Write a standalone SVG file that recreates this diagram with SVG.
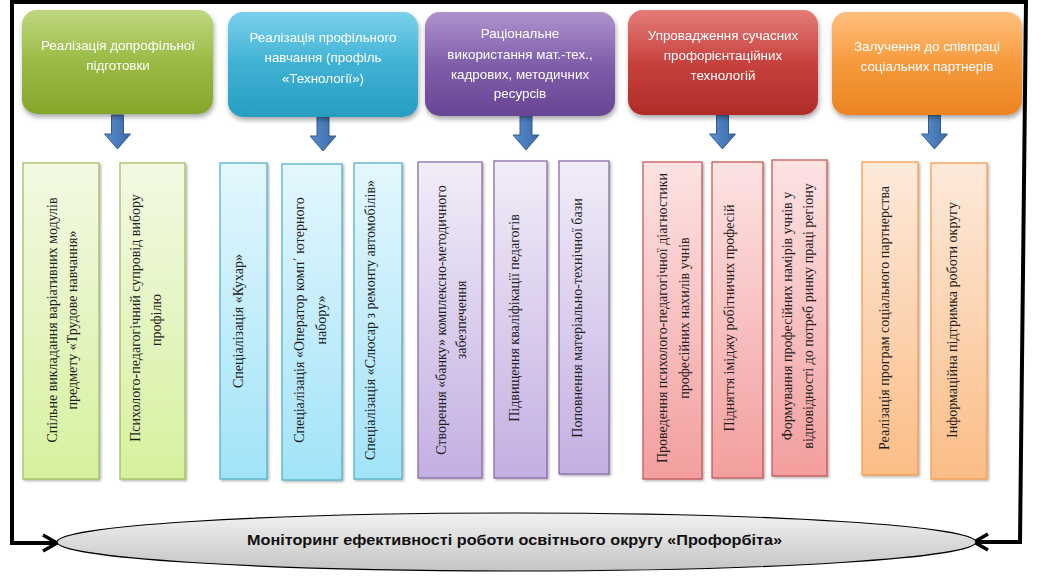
<svg xmlns="http://www.w3.org/2000/svg" width="1039" height="577" viewBox="0 0 1039 577">
<defs>
<style>
.ht{font-family:"Liberation Sans",Arial,sans-serif;font-size:13.4px;fill:#ffffff;text-anchor:middle}
.vt{font-family:"Liberation Serif","Times New Roman",serif;font-size:14px;fill:#1e1e1e;text-anchor:middle}
.mt{font-family:"Liberation Sans",Arial,sans-serif;font-size:15px;font-weight:bold;fill:#111;text-anchor:middle}
.hdr{filter:url(#sh)}
.lb{filter:url(#sh2);stroke-width:1.2}
.gloss{fill:url(#gl)}
.bar{stroke-width:4;filter:url(#sh2)}
.blk{fill:url(#ar);stroke:#385d8a;stroke-width:1}
.frame{fill:none;stroke:#000;stroke-width:4;stroke-linejoin:miter}
</style>
<filter id="sh" x="-10%" y="-10%" width="130%" height="140%"><feDropShadow dx="1" dy="3" stdDeviation="2.5" flood-color="#000" flood-opacity="0.35"/></filter>
<filter id="sh2" x="-10%" y="-10%" width="130%" height="130%"><feDropShadow dx="1.5" dy="1.5" stdDeviation="1.2" flood-color="#000" flood-opacity="0.3"/></filter>
<linearGradient id="gl" x1="0" y1="0" x2="0" y2="1"><stop offset="0" stop-color="#fff" stop-opacity="0.3"/><stop offset="0.5" stop-color="#fff" stop-opacity="0.05"/><stop offset="1" stop-color="#fff" stop-opacity="0"/></linearGradient>
<linearGradient id="hg" x1="0" y1="0" x2="0" y2="1"><stop offset="0" stop-color="#a4c64a"/><stop offset="1" stop-color="#84a72a"/></linearGradient>
<linearGradient id="hb" x1="0" y1="0" x2="0" y2="1"><stop offset="0" stop-color="#42bde2"/><stop offset="1" stop-color="#279dc2"/></linearGradient>
<linearGradient id="hp" x1="0" y1="0" x2="0" y2="1"><stop offset="0" stop-color="#8a64b6"/><stop offset="1" stop-color="#684694"/></linearGradient>
<linearGradient id="hr" x1="0" y1="0" x2="0" y2="1"><stop offset="0" stop-color="#d8443f"/><stop offset="1" stop-color="#b02c28"/></linearGradient>
<linearGradient id="ho" x1="0" y1="0" x2="0" y2="1"><stop offset="0" stop-color="#ffa444"/><stop offset="1" stop-color="#ec8420"/></linearGradient>
<linearGradient id="lg" x1="0" y1="0" x2="0" y2="1"><stop offset="0" stop-color="#f3f9e4"/><stop offset="1" stop-color="#d6f19e"/></linearGradient>
<linearGradient id="lbl" x1="0" y1="0" x2="0" y2="1"><stop offset="0" stop-color="#e4f7fd"/><stop offset="1" stop-color="#a2e3f8"/></linearGradient>
<linearGradient id="lp" x1="0" y1="0" x2="0" y2="1"><stop offset="0" stop-color="#f1edf8"/><stop offset="1" stop-color="#c4afe2"/></linearGradient>
<linearGradient id="lr" x1="0" y1="0" x2="0" y2="1"><stop offset="0" stop-color="#fde3e3"/><stop offset="1" stop-color="#f39e9e"/></linearGradient>
<linearGradient id="lo" x1="0" y1="0" x2="0" y2="1"><stop offset="0" stop-color="#fdeadb"/><stop offset="1" stop-color="#fbbd86"/></linearGradient>
<linearGradient id="ar" x1="0" y1="0" x2="1" y2="0"><stop offset="0" stop-color="#5a8fd0"/><stop offset="1" stop-color="#3b68a6"/></linearGradient>
<linearGradient id="el" x1="0" y1="0" x2="0" y2="1"><stop offset="0" stop-color="#f2f2f2"/><stop offset="1" stop-color="#c4c4c4"/></linearGradient>
<marker id="chev" viewBox="0 0 20 20" refX="17" refY="10" markerWidth="20" markerHeight="20" markerUnits="userSpaceOnUse" orient="auto-start-reverse"><path d="M3,2 L17,10 L3,18" fill="none" stroke="#000" stroke-width="3.5" stroke-linejoin="miter"/></marker>
<path id="barrow" d="M-6,0 H6 V19 H13 L0,34 L-13,19 H-6 Z"/>
</defs>
<rect width="1039" height="577" fill="#ffffff"/>

<g id="connectors">
<path class="frame" d="M974,542 L1020,542 L1026,2 L12,2 L12,543 L57,543" marker-start="url(#chev)" marker-end="url(#chev)"/>
<use href="#barrow" class="blk" x="117.5" y="115"/>
<use href="#barrow" class="blk" x="323" y="117"/>
<use href="#barrow" class="blk" x="526" y="116"/>
<use href="#barrow" class="blk" x="722.5" y="115"/>
<use href="#barrow" class="blk" x="934.5" y="115"/>
<line class="bar" x1="23" y1="145" x2="198" y2="145" stroke="#9bbb59"/>
<line class="bar" x1="226" y1="147" x2="400" y2="147" stroke="#4f81bd"/>
<line class="bar" x1="428" y1="145" x2="603" y2="145" stroke="#8064a2"/>
<line class="bar" x1="643" y1="147" x2="818" y2="147" stroke="#c0504d"/>
<line class="bar" x1="840" y1="147" x2="1015" y2="147" stroke="#f79646"/>
</g>

<g id="h1" class="hdr">
<rect x="22" y="10" width="191" height="104" rx="15" fill="url(#hg)"/>
<rect x="22" y="10" width="191" height="104" rx="15" class="gloss"/>
<text class="ht" x="118" y="50">Реалізація допрофільної</text>
<text class="ht" x="118" y="70">підготовки</text>
</g>
<g id="h2" class="hdr">
<rect x="228" y="12" width="190" height="105" rx="15" fill="url(#hb)"/>
<rect x="228" y="12" width="190" height="105" rx="15" class="gloss"/>
<text class="ht" x="323" y="42">Реалізація профільного</text>
<text class="ht" x="323" y="62">навчання (профіль</text>
<text class="ht" x="323" y="83">«Технології»)</text>
</g>
<g id="h3" class="hdr">
<rect x="425" y="12" width="190" height="104" rx="15" fill="url(#hp)"/>
<rect x="425" y="12" width="190" height="104" rx="15" class="gloss"/>
<text class="ht" x="520" y="38">Раціональне</text>
<text class="ht" x="520" y="59">використання мат.-тех.,</text>
<text class="ht" x="520" y="79">кадрових, методичних</text>
<text class="ht" x="520" y="98">ресурсів</text>
</g>
<g id="h4" class="hdr">
<rect x="628" y="10" width="190" height="105" rx="15" fill="url(#hr)"/>
<rect x="628" y="10" width="190" height="105" rx="15" class="gloss"/>
<text class="ht" x="723" y="40">Упровадження сучасних</text>
<text class="ht" x="723" y="60">профорієнтаційних</text>
<text class="ht" x="723" y="80">технологій</text>
</g>
<g id="h5" class="hdr">
<rect x="832" y="12" width="190" height="103" rx="15" fill="url(#ho)"/>
<rect x="832" y="12" width="190" height="103" rx="15" class="gloss"/>
<text class="ht" x="927" y="51">Залучення до співпраці</text>
<text class="ht" x="927" y="71">соціальних партнерів</text>
</g>

<g id="g1"><rect class="lb" x="23" y="163" width="76" height="316" fill="url(#lg)" stroke="#9bbb59"/>
<text class="vt" transform="translate(56.5,320) rotate(-90)">Спільне викладання варіативних модулів</text>
<text class="vt" transform="translate(76.5,320) rotate(-90)">предмету «Трудове навчання»</text></g>
<g id="g2"><rect class="lb" x="120" y="163" width="65" height="316" fill="url(#lg)" stroke="#9bbb59"/>
<text class="vt" transform="translate(139.5,318) rotate(-90)">Психолого-педагогічний супровід вибору</text>
<text class="vt" transform="translate(161,320) rotate(-90)">профілю</text></g>

<g id="b1"><rect class="lb" x="220" y="163" width="47" height="316" fill="url(#lbl)" stroke="#4bacc6"/>
<text class="vt" transform="translate(242.5,321) rotate(-90)">Спеціалізація «Кухар»</text></g>
<g id="b2"><rect class="lb" x="282" y="164" width="60" height="316" fill="url(#lbl)" stroke="#4bacc6"/>
<text class="vt" transform="translate(303.5,320) rotate(-90)">Спеціалізація «Оператор комп΄   ютерного</text>
<text class="vt" transform="translate(325.5,320) rotate(-90)">набору»</text></g>
<g id="b3"><rect class="lb" x="354" y="163" width="48" height="316" fill="url(#lbl)" stroke="#4bacc6"/>
<text class="vt" transform="translate(374.5,320) rotate(-90)">Спеціалізація «Слюсар з ремонту автомобілів»</text></g>

<g id="p1"><rect class="lb" x="418" y="162" width="64" height="316" fill="url(#lp)" stroke="#8064a2"/>
<text class="vt" transform="translate(445.5,320) rotate(-90)">Створення «банку» комплексно-методичного</text>
<text class="vt" transform="translate(466,320) rotate(-90)">забезпечення</text></g>
<g id="p2"><rect class="lb" x="494" y="161" width="53" height="317" fill="url(#lp)" stroke="#8064a2"/>
<text class="vt" transform="translate(518.5,318) rotate(-90)">Підвищення кваліфікації педагогів</text></g>
<g id="p3"><rect class="lb" x="559" y="161" width="50" height="313" fill="url(#lp)" stroke="#8064a2"/>
<text class="vt" transform="translate(581.5,318) rotate(-90)">Поповнення матеріально-технічної бази</text></g>

<g id="r1"><rect class="lb" x="643" y="162" width="59" height="317" fill="url(#lr)" stroke="#c0504d"/>
<text class="vt" transform="translate(666.5,318) rotate(-90)">Проведення психолого-педагогічної діагностики</text>
<text class="vt" transform="translate(688.5,318) rotate(-90)">професійних нахилів учнів</text></g>
<g id="r2"><rect class="lb" x="712" y="162" width="51" height="316" fill="url(#lr)" stroke="#c0504d"/>
<text class="vt" transform="translate(733.5,318) rotate(-90)">Підняття іміджу робітничих професій</text></g>
<g id="r3"><rect class="lb" x="772" y="160" width="55" height="316" fill="url(#lr)" stroke="#c0504d"/>
<text class="vt" transform="translate(791.5,316) rotate(-90)">Формування професійних намірів учнів у</text>
<text class="vt" transform="translate(812.5,316) rotate(-90)">відповідності до потреб ринку праці регіону</text></g>

<g id="o1"><rect class="lb" x="862" y="162" width="56" height="313" fill="url(#lo)" stroke="#f79646"/>
<text class="vt" transform="translate(888.5,318) rotate(-90)">Реалізація програм соціального партнерства</text></g>
<g id="o2"><rect class="lb" x="931" y="163" width="56" height="316" fill="url(#lo)" stroke="#f79646"/>
<text class="vt" transform="translate(956.5,320) rotate(-90)">Інформаційна підтримка роботи округу</text></g>

<g id="monitor">
<ellipse cx="516.5" cy="542" rx="459.5" ry="29" fill="url(#el)" stroke="#000" stroke-width="1.2"/>
<text class="mt" x="514.5" y="545" textLength="535" lengthAdjust="spacingAndGlyphs">Моніторинг ефективності роботи освітнього округу «Профорбіта»</text>
</g>
</svg>
